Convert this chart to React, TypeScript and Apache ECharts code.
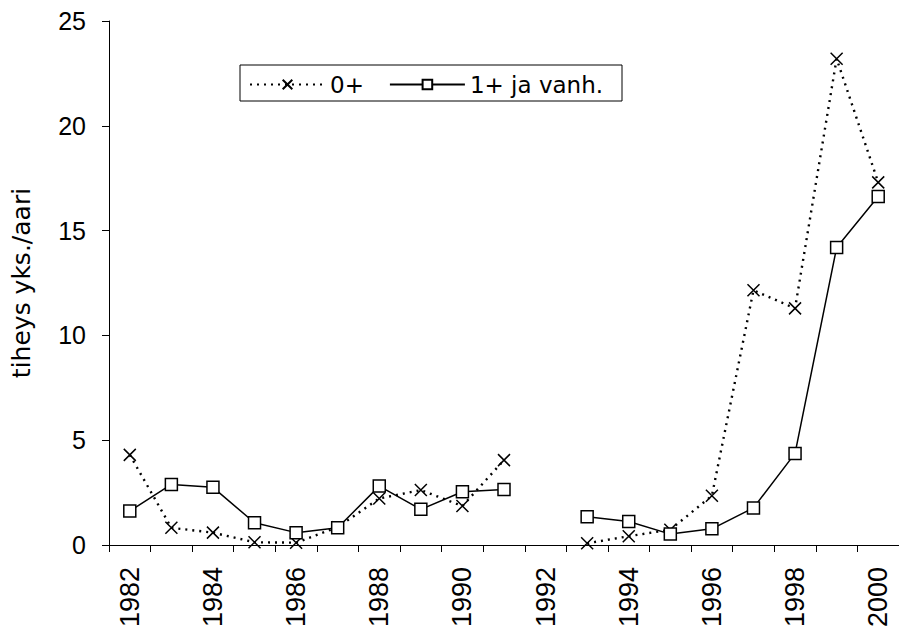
import React, { useEffect, useRef } from "react";
import * as echarts from "echarts";

const years = ["1982","1983","1984","1985","1986","1987","1988","1989","1990","1991","1992","1993","1994","1995","1996","1997","1998","1999","2000"];
const age0: (number | null)[] = [4.3, 0.82, 0.59, 0.13, 0.11, 0.85, 2.22, 2.62, 1.86, 4.05, null, 0.08, 0.42, 0.73, 2.35, 12.15, 11.29, 23.2, 17.3];
const age1: (number | null)[] = [1.62, 2.89, 2.75, 1.06, 0.59, 0.82, 2.81, 1.7, 2.54, 2.65, null, 1.35, 1.12, 0.52, 0.77, 1.77, 4.37, 14.19, 16.63];
const seriesNames = ["0+", "1+ ja vanh."];
const yAxisName = "tiheys yks./aari";

const FONT = "'Liberation Sans', Arial, sans-serif";
const WIDE = "'DejaVu Sans', Verdana, sans-serif";

export default function App() {
  const ref = useRef<HTMLDivElement>(null);
  useEffect(() => {
    if (!ref.current) return;
    const chart = echarts.init(ref.current, null, { renderer: "svg" });
    chart.setOption({
      animation: false,
      backgroundColor: "#fff",
      textStyle: { fontFamily: FONT, color: "#000" },
      grid: { left: 109, top: 21, width: 798, height: 524 },
      xAxis: {
        type: "category",
        data: years,
        boundaryGap: true,
        axisLine: { show: true, lineStyle: { color: "#000", width: 1 } },
        axisTick: { show: true, interval: 0, length: 7, lineStyle: { color: "#000" } },
        axisLabel: { interval: 1, rotate: 90, fontSize: 27, color: "#000", margin: 22, fontFamily: FONT },
        splitLine: { show: false },
      },
      yAxis: {
        type: "value",
        min: 0,
        max: 25,
        interval: 5,
        name: yAxisName,
        nameLocation: "middle",
        nameGap: 75,
        nameRotate: 90,
        nameTextStyle: { fontSize: 25, color: "#000", fontFamily: WIDE },
        axisLine: { show: true, lineStyle: { color: "#000", width: 1 } },
        axisTick: { show: true, length: 7, lineStyle: { color: "#000" } },
        axisLabel: { fontSize: 25, color: "#000", margin: 23, fontFamily: FONT },
        splitLine: { show: false },
      },
      legend: {
        data: seriesNames,
        left: 249,
        top: 73,
        padding: 0,
        itemWidth: 75,
        itemHeight: 12,
        itemGap: 25,
        textStyle: { fontSize: 23, color: "#000", fontFamily: WIDE },
      },
      graphic: [
        {
          type: "rect",
          shape: { x: 240, y: 65, width: 382, height: 36 },
          style: { fill: "none", stroke: "#000", lineWidth: 1 },
          z: 100,
        },
      ],
      series: [
        {
          name: seriesNames[0],
          type: "line",
          data: age0,
          symbol: "path://M0,0L10,10M10,0L0,10",
          symbolSize: 12,
          itemStyle: { color: "#000", borderColor: "#000", borderWidth: 1.5 },
          lineStyle: { color: "#000", width: 2.4, type: [2, 5] },
          z: 2,
        },
        {
          name: seriesNames[1],
          type: "line",
          data: age1,
          symbol: "rect",
          symbolSize: 12,
          itemStyle: { color: "#fff", borderColor: "#000", borderWidth: 1.5 },
          lineStyle: { color: "#000", width: 1.5, type: "solid" },
          z: 3,
        },
      ],
    });
    return () => chart.dispose();
  }, []);
  return (
    <div
      ref={ref}
      style={{ position: "fixed", left: 0, top: 0, width: 899, height: 633, background: "#fff" }}
    />
  );
}
